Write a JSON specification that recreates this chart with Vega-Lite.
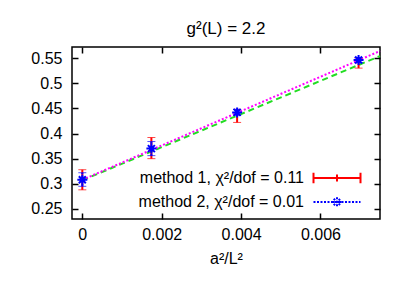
{
  "$schema": "https://vega.github.io/schema/vega-lite/v6.json",
  "width": 308,
  "height": 172,
  "autosize": "none",
  "padding": {"left": 72, "top": 47, "right": 29, "bottom": 67},
  "config": {
    "font": "Liberation Sans",
    "view": {"stroke": "black", "strokeWidth": 1.5},
    "axis": {"grid": false, "domain": false, "tickColor": "black", "tickSize": -6, "tickWidth": 1.5, "labelFontSize": 16, "labelColor": "black", "titleColor": "black", "titleFontSize": 16, "titleFontWeight": "normal", "labelPadding": 16}
  },
  "title": {"text": "g²(L) = 2.2", "fontSize": 17, "fontWeight": "normal", "font": "Liberation Sans", "color": "black", "offset": 8},
  "datasets": {
    "pts": [
      {"series": "m1", "label": "method 1, χ²/dof = 0.11", "x": 0, "y": 0.308, "lo": 0.288, "hi": 0.328},
      {"series": "m1", "label": "method 1, χ²/dof = 0.11", "x": 0.00174, "y": 0.37, "lo": 0.35, "hi": 0.392},
      {"series": "m1", "label": "method 1, χ²/dof = 0.11", "x": 0.0039, "y": 0.435, "lo": 0.422, "hi": 0.448},
      {"series": "m1", "label": "method 1, χ²/dof = 0.11", "x": 0.00696, "y": 0.54, "lo": 0.53, "hi": 0.55},
      {"series": "m2", "label": "method 2, χ²/dof = 0.01", "x": 0, "y": 0.308, "lo": 0.295, "hi": 0.322},
      {"series": "m2", "label": "method 2, χ²/dof = 0.01", "x": 0.00174, "y": 0.37, "lo": 0.356, "hi": 0.384},
      {"series": "m2", "label": "method 2, χ²/dof = 0.01", "x": 0.0039, "y": 0.442, "lo": 0.436, "hi": 0.448},
      {"series": "m2", "label": "method 2, χ²/dof = 0.01", "x": 0.00696, "y": 0.546, "lo": 0.541, "hi": 0.551}
    ],
    "fits": [
      {"fit": "f1", "x": 0, "y": 0.307},
      {"fit": "f1", "x": 0.0075, "y": 0.554},
      {"fit": "f2", "x": 0, "y": 0.308},
      {"fit": "f2", "x": 0.0075, "y": 0.564}
    ]
  },
  "resolve": {"axis": {"x": "independent", "y": "independent"}},
  "layer": [
    {
      "data": {"name": "fits"},
      "transform": [{"filter": "datum.fit === 'f1'"}],
      "mark": {"type": "line", "color": "#22dd22", "strokeWidth": 2, "strokeDash": [6, 4]},
      "encoding": {
        "x": {"field": "x", "type": "quantitative", "scale": {"domain": [-0.00026, 0.0075], "nice": false, "zero": false},
              "axis": {"orient": "bottom", "values": [0, 0.002, 0.004, 0.006], "format": "~g", "title": "a²/L²", "titlePadding": 8, "labelPadding": 13}},
        "y": {"field": "y", "type": "quantitative", "scale": {"domain": [0.23, 0.572], "nice": false, "zero": false},
              "axis": {"orient": "left", "values": [0.25, 0.3, 0.35, 0.4, 0.45, 0.5, 0.55], "format": "~g", "title": null}}
      }
    },
    {
      "data": {"name": "fits"},
      "transform": [{"filter": "datum.fit === 'f2'"}],
      "mark": {"type": "line", "color": "#ff00ff", "strokeWidth": 2, "strokeDash": [2, 2]},
      "encoding": {
        "x": {"field": "x", "type": "quantitative", "axis": {"orient": "top", "values": [0, 0.002, 0.004, 0.006], "labels": false, "title": null}},
        "y": {"field": "y", "type": "quantitative", "axis": {"orient": "right", "values": [0.25, 0.3, 0.35, 0.4, 0.45, 0.5, 0.55], "labels": false, "title": null}}
      }
    },
    {
      "data": {"name": "pts"},
      "transform": [{"filter": "datum.series === 'm1'"}],
      "mark": {"type": "errorbar", "ticks": {"size": 8, "strokeWidth": 2}, "rule": {"strokeWidth": 2}},
      "encoding": {
        "x": {"field": "x", "type": "quantitative", "axis": null},
        "y": {"field": "lo", "type": "quantitative", "axis": null},
        "y2": {"field": "hi"},
        "color": {"field": "label", "type": "nominal",
          "scale": {"domain": ["method 1, χ²/dof = 0.11", "method 2, χ²/dof = 0.01"], "range": ["#ff0000", "#0000ff"]},
          "legend": {"title": null, "orient": "none", "legendX": 254, "legendY": 120, "padding": 0, "labelFontSize": 16, "labelColor": "black", "labelLimit": 400, "labelAlign": "right", "labelOffset": -44, "symbolSize": 400, "symbolStrokeWidth": 2, "rowPadding": 3,
            "encode": {"symbols": {"update": {
              "shape": {"signal": "datum.index === 0 ? 'M-2.35,0H2.35M-2.35,-0.52V0.52M2.35,-0.52V0.52M0,-0.35V0.35' : 'M-2.35,0H2.35M0,-0.47V0.47M-0.47,0H0.47M-0.33,-0.33L0.33,0.33M-0.33,0.33L0.33,-0.33'"},
              "strokeDash": {"signal": "datum.index === 0 ? [] : [2,1.5]"},
              "fill": {"value": "transparent"}
            }}}}
        }
      }
    },
    {
      "data": {"name": "pts"},
      "transform": [{"filter": "datum.series === 'm2'"}],
      "mark": {"type": "errorbar", "ticks": {"size": 8, "strokeWidth": 2, "strokeDash": [2, 2]}, "rule": {"strokeWidth": 2, "strokeDash": [2, 2]}},
      "encoding": {
        "x": {"field": "x", "type": "quantitative", "axis": null},
        "y": {"field": "lo", "type": "quantitative", "axis": null},
        "y2": {"field": "hi"},
        "color": {"field": "label", "type": "nominal"}
      }
    },
    {
      "data": {"name": "pts"},
      "transform": [{"filter": "datum.series === 'm2'"}],
      "mark": {"type": "point", "shape": "M-1,0H1M0,-1V1M-0.7,-0.7L0.7,0.7M-0.7,0.7L0.7,-0.7", "size": 100, "filled": false, "stroke": "#0000ff", "strokeWidth": 2, "opacity": 1},
      "encoding": {
        "x": {"field": "x", "type": "quantitative", "axis": null},
        "y": {"field": "y", "type": "quantitative", "axis": null}
      }
    }
  ]
}
